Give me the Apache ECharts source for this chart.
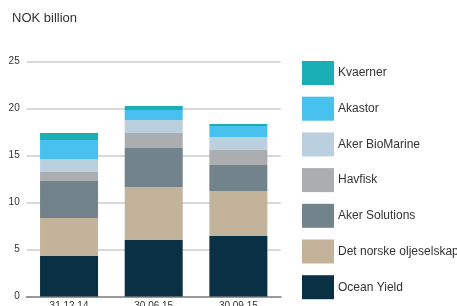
<!DOCTYPE html>
<html><head><meta charset="utf-8">
<script src="https://cdn.jsdelivr.net/npm/echarts@6/dist/echarts.min.js"></script>
<style>html,body{margin:0;padding:0;background:#fff}#c{width:457px;height:306px}</style>
</head><body><div id="c"></div>
<script>
const categories = ['31.12.14', '30.06.15', '30.09.15'];
const seriesNames = ['Ocean Yield', 'Det norske oljeselskap', 'Aker Solutions', 'Havfisk', 'Aker BioMarine', 'Akastor', 'Kvaerner'];
const oceanYield = [4.31, 6.02, 6.44];
const detNorske = [4.05, 5.64, 4.80];
const akerSolutions = [3.94, 4.15, 2.76];
const havfisk = [0.96, 1.60, 1.60];
const akerBioMarine = [1.38, 1.39, 1.39];
const akastor = [2.03, 1.06, 1.17];
const kvaerner = [0.74, 0.43, 0.21];
const yTicks = [0, 5, 10, 15, 20, 25];

const values = [oceanYield, detNorske, akerSolutions, havfisk, akerBioMarine, akastor, kvaerner];
const colors = ['#0a3044', '#c3b39a', '#72838b', '#acadb1', '#bbd0de', '#48c1ee', '#1aafb5'];

const chart = echarts.init(document.getElementById('c'));
chart.setOption({
  animation: false,
  title: { text: 'NOK billion', left: 12, top: 12, padding: 0, textStyle: { fontFamily: 'Liberation Sans', fontSize: 13, fontWeight: 'normal', color: '#333' } },
  legend: {
    type: 'plain',
    orient: 'vertical', left: 302, top: 61, padding: 0,
    itemWidth: 32, itemHeight: 24, itemGap: 11.7,
    icon: 'rect',
    data: seriesNames.slice().reverse(),
    textStyle: { fontFamily: 'Liberation Sans', fontSize: 12, color: '#333', padding: [0, 0, 0, -1] }
  },
  grid: { left: 26.7, right: 176.3, top: 61.7, bottom: 9.5, containLabel: false, outerBoundsMode: 'none' },
  xAxis: {
    type: 'category', data: categories,
    axisLine: { lineStyle: { color: '#999', width: 2 } },
    axisTick: { show: false },
    axisLabel: { fontFamily: 'Liberation Sans', fontSize: 10, color: '#333', margin: 5 }
  },
  yAxis: {
    type: 'value', min: yTicks[0], max: yTicks[yTicks.length - 1], interval: 5,
    axisLine: { show: false }, axisTick: { show: false },
    axisLabel: { fontFamily: 'Liberation Sans', fontSize: 10, color: '#333', margin: 7 },
    splitLine: { lineStyle: { color: '#ccc', width: 1.5 } }
  },
  series: seriesNames.map((n, i) => ({
    name: n, type: 'bar', stack: 'total', data: values[i],
    barWidth: 58, itemStyle: { color: colors[i] }
  }))
});
</script></body></html>
